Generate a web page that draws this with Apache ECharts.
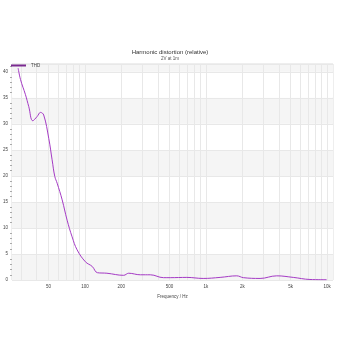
<!DOCTYPE html>
<html><head><meta charset="utf-8">
<script src="https://cdn.jsdelivr.net/npm/echarts@6/dist/echarts.min.js"></script>
<style>html,body{margin:0;padding:0;background:#fff}#c{width:340px;height:340px}</style>
</head><body><div id="c"></div>
<script>
const freqs = [28.1, 29.4, 32.3, 34.4, 37.1, 40.3, 43.0, 45.7, 50.3, 53.6, 56.4, 59, 64.9, 71.3, 78.4, 86.2, 101, 115, 127, 152, 209, 230, 287, 347, 446, 507, 695, 948, 1309, 1797, 2037, 2797, 3839, 5261, 7227, 9925];
const thd = [40.7, 38.5, 35.6, 33.3, 30.6, 31.4, 32.2, 31.7, 27.2, 23.1, 19.9, 18.6, 15.4, 11.5, 8.3, 5.8, 3.5, 2.6, 1.4, 1.3, 0.9, 1.3, 1.0, 1.0, 0.45, 0.45, 0.5, 0.3, 0.5, 0.8, 0.45, 0.3, 0.8, 0.5, 0.1, 0.05];
const xTickLabels = [50, 100, 200, 500, 1000, 2000, 5000, 10000];
const gridFreqs = [30, 40, 50, 60, 70, 80, 90, 100, 200, 300, 400, 500, 600, 700, 800, 900, 1000, 2000, 3000, 4000, 5000, 6000, 7000, 8000, 9000, 10000];
const yTicks = [0, 5, 10, 15, 20, 25, 30, 35, 40];
const seriesName = 'THD';

const font = 'Liberation Sans';
const chart = echarts.init(document.getElementById('c'));
chart.setOption({
  animation: false,
  title: {
    text: 'Harmonic distortion (relative)',
    subtext: '2V at 1m',
    left: 'center', top: 44, itemGap: 1,
    textStyle: {fontSize: 6, fontWeight: 'normal', color: '#333', fontFamily: font},
    subtextStyle: {fontSize: 4.5, color: '#555', fontFamily: font}
  },
  legend: {
    left: 6, top: 58, itemWidth: 15, itemHeight: 2, itemGap: 4,
    icon: 'rect',
    textStyle: {fontSize: 4.5, color: '#444', fontFamily: font},
    data: [seriesName]
  },
  grid: {left: 12, right: 7, top: 64, bottom: 60, outerBoundsMode: 'none', containLabel: false,
    show: true, borderColor: '#ddd', borderWidth: 1},
  xAxis: {
    type: 'log', logBase: 10, min: 25, max: 11200,
    name: 'Frequency / Hz', nameLocation: 'middle', nameGap: 7,
    nameTextStyle: {fontSize: 4.5, color: '#444', fontFamily: font},
    axisLine: {show: false},
    axisTick: {show: false, customValues: gridFreqs},
    axisLabel: {customValues: xTickLabels, fontSize: 4.5, color: '#444', fontFamily: font, margin: 4,
      formatter: v => v >= 1000 ? (v/1000) + 'k' : String(v)},
    splitLine: {show: true, lineStyle: {color: '#e8e8e8', width: 1}},
    minorSplitLine: {show: false}
  },
  yAxis: {
    type: 'value', min: 0, max: 41.5, interval: 5,
    name: 'Distortion / %', nameLocation: 'middle', nameGap: 9, nameRotate: 90,
    nameTextStyle: {fontSize: 4.5, color: '#444', fontFamily: font},
    axisLine: {show: false},
    axisTick: {show: false},
    minorTick: {show: true, splitNumber: 5, length: 2, lineStyle: {color: '#aaa'}},
    axisLabel: {fontSize: 4.5, color: '#444', fontFamily: font, margin: 4,
      formatter: v => yTicks.indexOf(v) >= 0 ? String(v) : ''},
    splitLine: {show: true, lineStyle: {color: '#e8e8e8'}},
    splitArea: {show: true, areaStyle: {color: ['#f5f5f5', '#ffffff']}}
  },
  graphic: [
    {type: 'text', right: 8, top: 64, style: {text: 'audioXpress', fontSize: 4, fill: '#4a78b0', fontFamily: font}}
  ],
  series: [{
    name: seriesName, type: 'line', smooth: 0.4, symbol: 'none',
    lineStyle: {color: '#a43ac4', width: 1},
    itemStyle: {color: '#7a2a90'},
    data: freqs.map((f, i) => [f, thd[i]])
  }]
});
</script></body></html>
